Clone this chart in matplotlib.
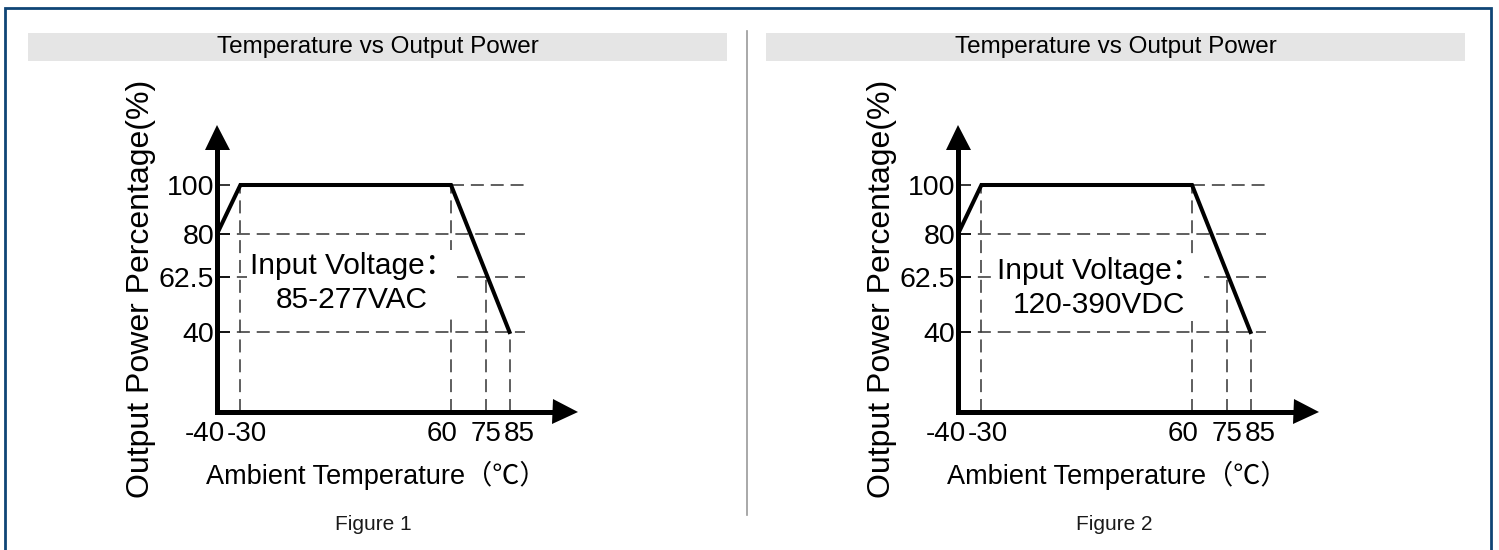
"""Temperature vs output power derating charts (two input ranges)."""
import matplotlib.pyplot as plt
from matplotlib.patches import Rectangle
from matplotlib.lines import Line2D

# derating curve, shared by both figures
curve_temp = [-40, -30, 60, 85]
curve_power = [80, 100, 100, 40]
x_ticks = [-40, -30, 60, 75, 85]
y_ticks = [40, 62.5, 80, 100]
# dashed guides
vguide_temp = [-30, 60, 75, 85]
vguide_top = [100, 100, 62.5, 40]
hguide_level = [100, 80, 62.5, 40]
hguide_from = [60, -40, -40, -40]

captions = ["Figure 1", "Figure 2"]
voltages = ["85-277VAC", "120-390VDC"]
title = "Temperature vs Output Power"

W, H = 1499, 550
LABEL_FONT = ["Liberation Sans", "Noto Sans CJK SC"]
DASH = (0, (8.5, 4.5))


def fx(px):
    return px / W


def fy(py):
    return 1 - py / H


def draw_panel(fig, dx, bar_dx, voltage, caption, text_xy):
    # title bar
    fig.add_artist(Rectangle((fx(28 + bar_dx), fy(61)), fx(699), 28 / H,
                             transform=fig.transFigure, fc="#e5e5e5", ec="none"))
    fig.text(fx(377.5 + bar_dx), fy(47), title, fontsize=17.5,
             family="Liberation Sans", ha="center", va="center")

    # axes: x origin at px 217, 2.34 px per degree; y 100 at px 185, 2.45 px per %
    left, right, top, bottom = 217 + dx, 564.5 + dx, 136.5, 412
    ax = fig.add_axes([fx(left), fy(bottom), fx(right - left), (bottom - top) / H])
    ax.set_xlim(-40, -40 + (right - left) / 2.34)
    ax.set_ylim(100 - (bottom - 185) / 2.45, 100 + (185 - top) / 2.45)
    ax.patch.set_alpha(0)
    for side in ["top", "right"]:
        ax.spines[side].set_visible(False)
    for side in ["left", "bottom"]:
        ax.spines[side].set_linewidth(3.6)
        ax.spines[side].set_capstyle("projecting")
    ax.plot(1, 0, ">", ms=18, mew=0, color="black", transform=ax.transAxes, clip_on=False)
    ax.plot(0, 1, "^", ms=18, mew=0, color="black", transform=ax.transAxes, clip_on=False)

    ax.set_xticks([])
    ax.set_yticks(y_ticks, labels=[f"{v:g}" for v in y_ticks])
    ax.tick_params(axis="y", direction="in", length=9.5, width=1.1, pad=2,
                   labelsize=20.5)
    for lbl in ax.get_yticklabels():
        lbl.set_family("Liberation Sans")

    x_shift = [-12, 6, -9, 0, 10]
    for t, sh in zip(x_ticks, x_shift):
        ax.annotate(f"{t}", (t, 0), xycoords=("data", "axes fraction"),
                    xytext=(sh, -9), textcoords="offset pixels",
                    ha="center", va="top", fontsize=20, family="Liberation Sans")

    # guides
    ymin = ax.get_ylim()[0]
    ax.hlines(hguide_level, hguide_from, 91.5, colors="#333333",
              linestyles=DASH, lw=1.1, zorder=1)
    ax.vlines(vguide_temp, ymin, vguide_top, colors="#333333",
              linestyles=DASH, lw=1.1, zorder=1)

    ax.plot(curve_temp, curve_power, color="black", lw=2.9,
            solid_joinstyle="miter", zorder=4)

    fig.text(fx(text_xy[0]), fy(text_xy[1]), "Input Voltage：\n" + voltage,
             fontsize=21.5, family=LABEL_FONT, ha="center", va="center",
             linespacing=1.25,
             bbox=dict(fc="white", ec="none", pad=2))

    fig.text(fx(141 + dx), fy(289), "Output Power Percentage(%)", rotation=90,
             fontsize=23, family=LABEL_FONT, ha="center", va="center")
    fig.text(fx(376 + dx), fy(475), "Ambient Temperature（℃）",
             fontsize=19.5, family=LABEL_FONT, ha="center", va="center")
    fig.text(fx(373 + dx), fy(525), caption, fontsize=15, color="#1a1a1a",
             family="Liberation Sans", ha="center", va="center")


def main():
    fig = plt.figure(figsize=(W / 100, H / 100), dpi=100)
    fig.patch.set_facecolor("white")

    # outer frame (bottom edge runs off the picture)
    fig.add_artist(Rectangle((fx(5), fy(560)), fx(1486), 552.5 / H,
                             transform=fig.transFigure, fc="none",
                             ec="#0f4576", lw=2, clip_on=False))
    # separator
    fig.add_artist(Line2D([fx(747), fx(747)], [fy(31), fy(515)],
                          color="#999999", lw=1.2))

    text_pos = [(352, 283), (1099, 288)]
    for i in range(2):
        draw_panel(fig, [0, 741][i], [0, 738][i], voltages[i], captions[i],
                   text_pos[i])

    fig.savefig("out.png", dpi=100)


if __name__ == "__main__":
    main()
